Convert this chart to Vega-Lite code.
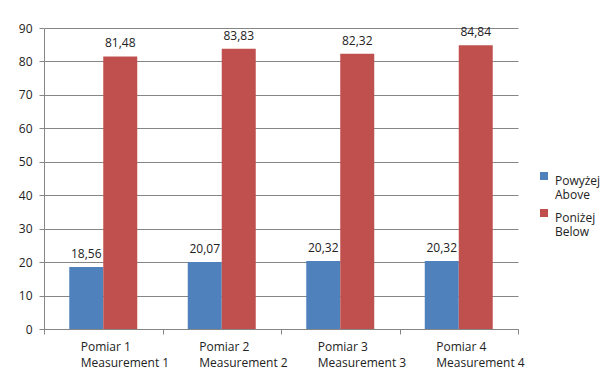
{
  "$schema": "https://vega.github.io/schema/vega-lite/v6.json",
  "width": 474,
  "height": 301,
  "autosize": {"type": "none"},
  "padding": {"left": 44, "top": 28, "right": 89, "bottom": 45},
  "background": "white",
  "config": {
    "locale": {"number": {"decimal": ",", "thousands": ".", "grouping": [3], "currency": ["", " zł"]}},
    "view": {"stroke": null},
    "font": "Open Sans",
    "axis": {"labelFont": "Open Sans", "labelFontSize": 12, "labelColor": "#222"},
    "legend": {"labelFont": "Open Sans", "labelFontSize": 12, "labelColor": "#222"}
  },
  "data": {
    "values": [
      {"measurement": "Pomiar 1\nMeasurement 1", "series": "Powyżej\nAbove", "value": 18.56},
      {"measurement": "Pomiar 1\nMeasurement 1", "series": "Poniżej\nBelow", "value": 81.48},
      {"measurement": "Pomiar 2\nMeasurement 2", "series": "Powyżej\nAbove", "value": 20.07},
      {"measurement": "Pomiar 2\nMeasurement 2", "series": "Poniżej\nBelow", "value": 83.83},
      {"measurement": "Pomiar 3\nMeasurement 3", "series": "Powyżej\nAbove", "value": 20.32},
      {"measurement": "Pomiar 3\nMeasurement 3", "series": "Poniżej\nBelow", "value": 82.32},
      {"measurement": "Pomiar 4\nMeasurement 4", "series": "Powyżej\nAbove", "value": 20.32},
      {"measurement": "Pomiar 4\nMeasurement 4", "series": "Poniżej\nBelow", "value": 84.84}
    ]
  },
  "encoding": {
    "x": {
      "field": "measurement", "type": "nominal", "sort": null,
      "scale": {"paddingInner": 0, "paddingOuter": 0},
      "axis": {
        "title": null, "labelAngle": 0, "tickBand": "extent",
        "labelAlign": "left", "labelOffset": -23, "labelBaseline": "top",
        "labelPadding": 7, "labelLineHeight": 16,
        "labelExpr": "split(datum.label, '\\n')",
        "domainColor": "#868686", "tickColor": "#868686", "tickSize": 5, "grid": false
      }
    },
    "xOffset": {
      "field": "series", "type": "nominal", "sort": ["Powyżej\nAbove", "Poniżej\nBelow"],
      "scale": {"paddingInner": 0, "paddingOuter": 0.743}
    },
    "y": {
      "field": "value", "type": "quantitative",
      "scale": {"domain": [0, 90], "nice": false},
      "axis": {
        "title": null, "values": [0, 10, 20, 30, 40, 50, 60, 70, 80, 90],
        "gridColor": "#868686", "domainColor": "#868686", "tickColor": "#868686",
        "tickSize": 5, "labelPadding": 7
      }
    }
  },
  "layer": [
    {
      "mark": {"type": "bar"},
      "encoding": {
        "color": {
          "field": "series", "type": "nominal",
          "scale": {"domain": ["Powyżej\nAbove", "Poniżej\nBelow"], "range": ["#4F81BD", "#C0504D"]},
          "legend": {
            "title": null, "orient": "none", "legendX": 494, "legendY": 142,
            "symbolType": "square", "symbolSize": 64, "symbolStrokeWidth": 0,
            "labelExpr": "split(datum.label, '\\n')", "labelLineHeight": 16,
            "labelBaseline": "top", "labelOffset": 5, "rowPadding": 6
          }
        }
      }
    },
    {
      "mark": {"type": "text", "baseline": "bottom", "dy": -6, "fontSize": 12, "color": "#222"},
      "encoding": {
        "text": {"field": "value", "type": "quantitative", "format": ".2f"}
      }
    }
  ]
}
